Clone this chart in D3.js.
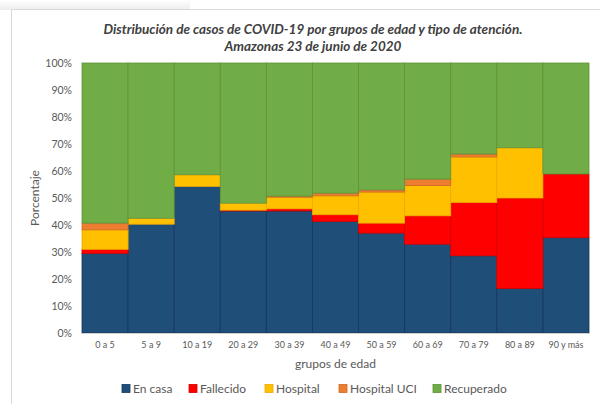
<!DOCTYPE html>
<html lang="es">
<head>
    <meta charset="UTF-8">
    <title>Distribución de casos COVID-19 Amazonas</title>
    <script src="https://d3js.org/d3.v7.min.js"></script>
    <style>
        body { margin: 0; background: #fff; }
        #chart { width: 600px; height: 404px; }
        text { font-family: Lato, "Open Sans", sans-serif; }
    </style>
</head>
<body>
    <div id="chart"></div>
    <script>
        // age groups
        var categories = ["0 a 5", "5 a 9", "10 a 19", "20 a 29", "30 a 39", "40 a 49",
            "50 a 59", "60 a 69", "70 a 79", "80 a 89", "90 y más"];

        // percent of cases by type of care
        var enCasa      = [29.5, 40.3, 54.3, 45.2, 45.2, 41.3, 37.0, 32.9, 28.6, 16.5, 35.3];
        var fallecido   = [1.5, 0, 0, 0.3, 0.8, 2.5, 3.7, 10.5, 19.7, 33.5, 23.6];
        var hospital    = [7.2, 2.2, 4.3, 2.6, 4.3, 7.0, 11.5, 11.2, 16.9, 18.6, 0];
        var hospitalUCI = [2.5, 0, 0, 0, 0.4, 1.0, 0.8, 2.4, 1.1, 0, 0];
        var recuperado  = [59.3, 57.5, 41.4, 51.9, 49.3, 48.2, 47.0, 43.0, 33.7, 31.4, 41.1];

        var seriesNames = ["En casa", "Fallecido", "Hospital", "Hospital UCI", "Recuperado"];
        var yTicks = [0, 0.1, 0.2, 0.3, 0.4, 0.5, 0.6, 0.7, 0.8, 0.9, 1];

        var colors = ["#1f4e79", "#ff0000", "#ffc000", "#ed7d31", "#70ad47"];
        var strokes = ["#16365c", "#d00000", "#f0a800", "#d06a20", "#5e9238"];

        var width = 600;
        var height = 404;
        var margin = { top: 63, right: 11, bottom: 71, left: 82 };

        var rows = categories.map(function (c, i) {
            return {
                cat: c,
                "En casa": enCasa[i],
                "Fallecido": fallecido[i],
                "Hospital": hospital[i],
                "Hospital UCI": hospitalUCI[i],
                "Recuperado": recuperado[i]
            };
        });

        var svg = d3.select("#chart")
            .append("svg")
            .attr("width", width)
            .attr("height", height);

        // faint shadow above the frame and the frame itself
        var grad = svg.append("defs").append("linearGradient")
            .attr("id", "shadow").attr("x1", 0).attr("x2", 0).attr("y1", 0).attr("y2", 1);
        grad.append("stop").attr("offset", "0%").attr("stop-color", "#ffffff");
        grad.append("stop").attr("offset", "100%").attr("stop-color", "#e8e8e8");
        svg.append("rect").attr("x", 0).attr("y", 0).attr("width", 190).attr("height", 10)
            .attr("fill", "url(#shadow)").attr("opacity", 0.8);
        svg.append("rect")
            .attr("x", 11.5).attr("y", 9.5)
            .attr("width", 620).attr("height", 420)
            .attr("fill", "#fff")
            .attr("stroke", "#d9d9d9");

        var x = d3.scaleBand()
            .domain(categories)
            .range([margin.left, width - margin.right])
            .padding(0);

        var y = d3.scaleLinear()
            .domain([0, 1])
            .range([height - margin.bottom, margin.top]);

        var stack = d3.stack()
            .keys(seriesNames)
            .offset(d3.stackOffsetExpand);

        var layers = stack(rows);

        svg.append("g")
            .selectAll("g")
            .data(layers)
            .enter().append("g")
            .attr("fill", function (d, i) { return colors[i]; })
            .attr("stroke", function (d, i) { return strokes[i]; })
            .selectAll("rect")
            .data(function (d) { return d; })
            .enter().append("rect")
            .filter(function (d) { return d[1] - d[0] > 0; })
            .attr("x", function (d) { return x(d.data.cat); })
            .attr("y", function (d) { return y(d[1]); })
            .attr("width", x.bandwidth())
            .attr("height", function (d) { return y(d[0]) - y(d[1]); })
            .attr("stroke-width", 0.8);

        // y axis
        var yAxis = svg.append("g")
            .attr("transform", "translate(" + margin.left + ",0)")
            .call(d3.axisLeft(y).tickValues(yTicks).tickFormat(d3.format(".0%")).tickSize(0).tickPadding(10));
        yAxis.select(".domain").remove();
        yAxis.selectAll("text")
            .attr("fill", "#595959")
            .style("font-size", "10.5px");

        // x axis
        var xAxis = svg.append("g")
            .attr("transform", "translate(0," + (height - margin.bottom) + ")")
            .call(d3.axisBottom(x).tickSize(0).tickPadding(9));
        xAxis.select(".domain").attr("stroke", "#d0d0d0");
        xAxis.selectAll("text")
            .attr("fill", "#595959")
            .style("font-size", "9px");

        // axis titles
        svg.append("text")
            .attr("x", (margin.left + width - margin.right) / 2)
            .attr("y", 368)
            .attr("text-anchor", "middle")
            .attr("fill", "#595959")
            .style("font-size", "12px")
            .text("grupos de edad");

        svg.append("text")
            .attr("transform", "translate(39," + ((margin.top + height - margin.bottom) / 2) + ") rotate(-90)")
            .attr("text-anchor", "middle")
            .attr("fill", "#595959")
            .style("font-size", "12px")
            .text("Porcentaje");

        // title
        var title = svg.append("text")
            .attr("text-anchor", "middle")
            .attr("fill", "#404040")
            .style("font-size", "13.5px")
            .style("font-weight", "bold")
            .style("font-style", "italic");
        title.append("tspan").attr("x", 313).attr("y", 34)
            .text("Distribución de casos de COVID-19 por grupos de edad y tipo de atención.");
        title.append("tspan").attr("x", 313).attr("y", 51)
            .text("Amazonas 23 de junio de 2020");

        // legend
        var legendX = [122, 189, 265, 339, 433];
        var legend = svg.append("g")
            .selectAll("g")
            .data(seriesNames)
            .enter().append("g")
            .attr("transform", function (d, i) { return "translate(" + legendX[i] + ",389)"; });
        legend.append("rect")
            .attr("x", 0).attr("y", -4.5)
            .attr("width", 8).attr("height", 8)
            .attr("fill", function (d, i) { return colors[i]; })
            .attr("stroke", function (d, i) { return strokes[i]; })
            .attr("stroke-width", 0.8);
        legend.append("text")
            .attr("x", 11)
            .attr("dy", "0.35em")
            .attr("fill", "#595959")
            .style("font-size", "12px")
            .text(function (d) { return d; });
    </script>
</body>
</html>
